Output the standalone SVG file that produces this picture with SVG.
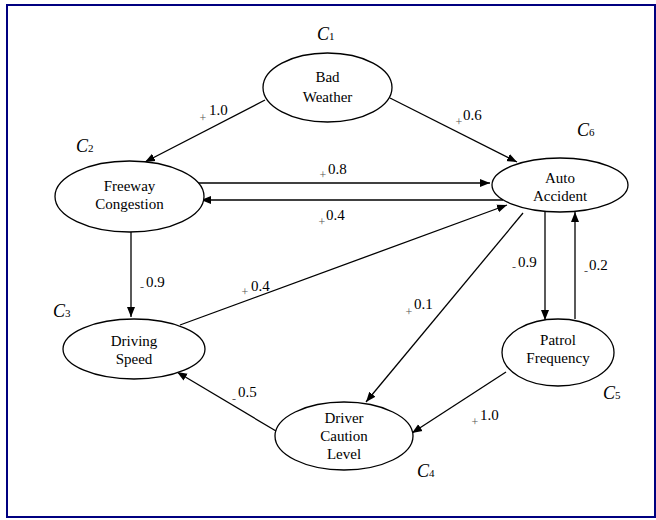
<svg xmlns="http://www.w3.org/2000/svg" width="656" height="520" viewBox="0 0 656 520">
<defs>
<marker id="ah" markerUnits="userSpaceOnUse" markerWidth="10" markerHeight="10" viewBox="0 0 10 10" refX="10" refY="5" orient="auto">
<path d="M0,1 L10,5 L0,9 Z" fill="#000"/>
</marker>
<style>
.n ellipse{fill:#fff;stroke:#000;stroke-width:1.3}
.n text{font-family:"Liberation Serif","DejaVu Serif",serif;font-size:15px;text-anchor:middle;fill:#000}
.e line{stroke:#000;stroke-width:1.3;marker-end:url(#ah)}
.v{font-family:"Liberation Serif","DejaVu Serif",serif;font-size:15px;fill:#000}
.s{font-family:"Liberation Serif","DejaVu Serif",serif;font-size:12px;fill:#555;text-anchor:middle}
.c{font-family:"Liberation Serif","DejaVu Serif",serif;font-size:18px;font-style:italic;fill:#000}
.c tspan{font-size:11px;font-style:normal}
</style>
</defs>
<rect x="7" y="5" width="648" height="512" fill="#fff" stroke="#000080" stroke-width="2"/>
<g id="connectors" class="e">
<line x1="265" y1="100" x2="145" y2="162"/>
<line x1="390" y1="98" x2="517" y2="162"/>
<line x1="197" y1="183" x2="490" y2="183"/>
<line x1="503" y1="200" x2="201" y2="200"/>
<line x1="131" y1="232" x2="131" y2="317"/>
<line x1="180" y1="325" x2="507" y2="205"/>
<line x1="523" y1="213" x2="366" y2="402"/>
<line x1="545" y1="212" x2="545" y2="320"/>
<line x1="575" y1="319" x2="575" y2="212"/>
<line x1="506" y1="372" x2="412" y2="433"/>
<line x1="276" y1="431" x2="177" y2="372"/>
</g>
<g id="edge-labels">
<text class="s" x="203" y="122">+</text><text class="v" x="209" y="115">1.0</text>
<text class="s" x="459" y="126">+</text><text class="v" x="463" y="120">0.6</text>
<text class="s" x="323" y="179">+</text><text class="v" x="328" y="174">0.8</text>
<text class="s" x="322" y="226">+</text><text class="v" x="326" y="220">0.4</text>
<text class="s" x="142" y="291">-</text><text class="v" x="146" y="287">0.9</text>
<text class="s" x="245" y="296">+</text><text class="v" x="251" y="291">0.4</text>
<text class="s" x="409" y="316">+</text><text class="v" x="414" y="309">0.1</text>
<text class="s" x="514" y="271">-</text><text class="v" x="518" y="267">0.9</text>
<text class="s" x="586" y="275">-</text><text class="v" x="589" y="270">0.2</text>
<text class="s" x="475" y="426">+</text><text class="v" x="480" y="420">1.0</text>
<text class="s" x="234" y="403">-</text><text class="v" x="238" y="397">0.5</text>
</g>
<g id="c1" class="n"><ellipse cx="327.5" cy="87.5" rx="64.5" ry="34.5"/><text x="327.5" y="82">Bad</text><text x="327.5" y="102">Weather</text></g>
<g id="c2" class="n"><ellipse cx="129.5" cy="196.5" rx="74.5" ry="35.5"/><text x="129.5" y="191">Freeway</text><text x="129.5" y="209">Congestion</text></g>
<g id="c6" class="n"><ellipse cx="560" cy="185" rx="68" ry="27"/><text x="560" y="183">Auto</text><text x="560" y="201">Accident</text></g>
<g id="c3" class="n"><ellipse cx="134" cy="349" rx="71" ry="30"/><text x="134" y="346">Driving</text><text x="134" y="364">Speed</text></g>
<g id="c4" class="n"><ellipse cx="344" cy="436" rx="69" ry="34"/><text x="344" y="423">Driver</text><text x="344" y="441">Caution</text><text x="344" y="459">Level</text></g>
<g id="c5" class="n"><ellipse cx="558" cy="352.5" rx="56" ry="33.5"/><text x="558" y="345">Patrol</text><text x="558" y="363">Frequency</text></g>
<g id="concept-labels">
<text class="c" x="317" y="40">C<tspan>1</tspan></text>
<text class="c" x="76" y="152">C<tspan>2</tspan></text>
<text class="c" x="53" y="317">C<tspan>3</tspan></text>
<text class="c" x="417" y="477">C<tspan>4</tspan></text>
<text class="c" x="603" y="399">C<tspan>5</tspan></text>
<text class="c" x="577" y="136">C<tspan>6</tspan></text>
</g>
</svg>
